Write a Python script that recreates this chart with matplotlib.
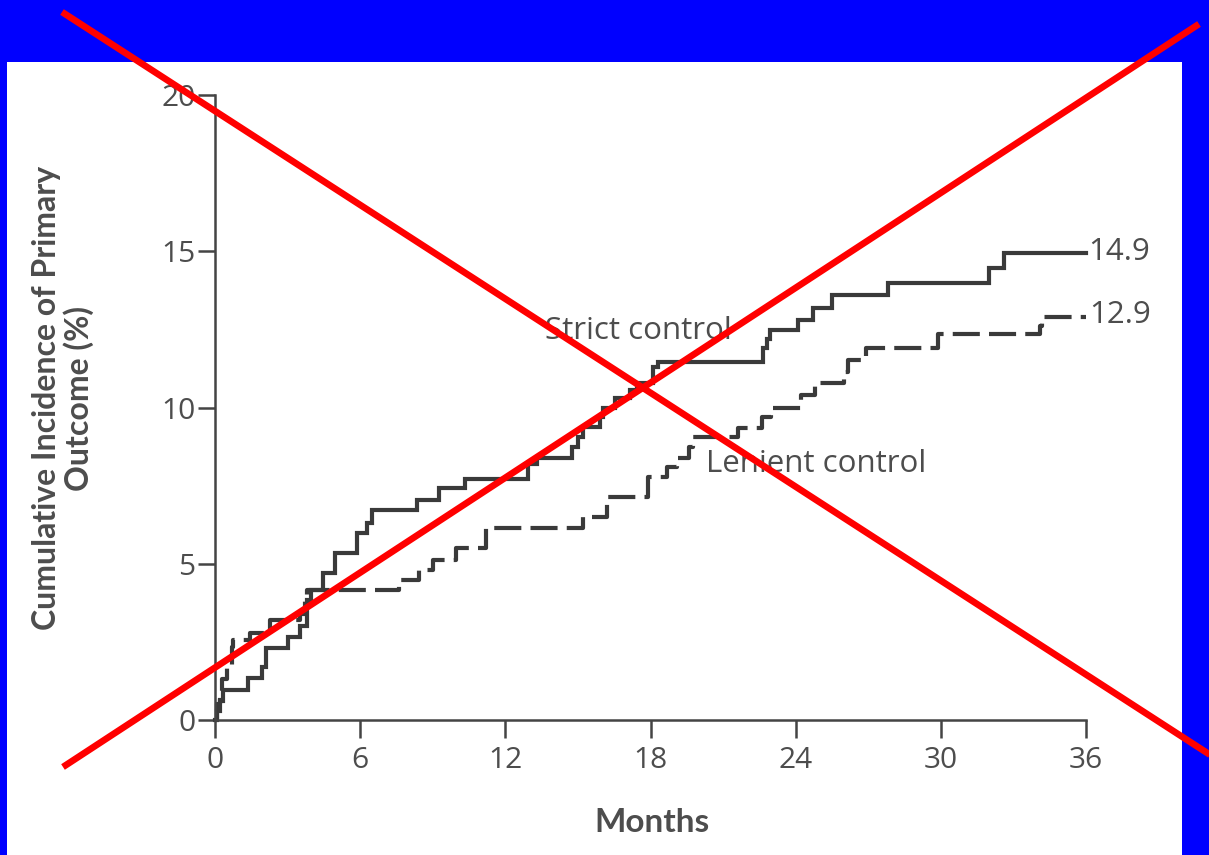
import matplotlib
matplotlib.use("Agg")
import matplotlib.pyplot as plt
from matplotlib.lines import Line2D
from matplotlib.patches import Rectangle

# ---- data ----
strict_t = [0, 0.1, 0.2, 0.33, 1.36, 1.93, 2.1, 3.0, 3.5, 3.8, 3.95, 4.45, 4.95,
            5.85, 6.3, 6.5, 8.35, 9.25, 10.35, 12.95, 13.3, 14.75, 15.0, 15.2,
            15.9, 16.05, 16.55, 17.15, 17.45, 18.1, 18.3, 22.65, 22.8, 22.95,
            24.1, 24.7, 25.5, 27.8, 32.0, 32.6, 36.0]
strict_v = [0, 0.3, 0.6, 0.96, 1.34, 1.7, 2.3, 2.66, 3.0, 3.84, 4.16, 4.7, 5.34,
            5.97, 6.3, 6.72, 7.04, 7.42, 7.71, 8.2, 8.4, 8.74, 9.06, 9.38,
            9.7, 10.0, 10.3, 10.56, 10.77, 11.3, 11.46, 11.9, 12.2, 12.48,
            12.8, 13.18, 13.6, 14.0, 14.46, 14.94, 14.94]

lenient_t = [0, 0.1, 0.2, 0.3, 0.5, 0.7, 0.75, 1.45, 2.27, 3.5, 3.7, 3.8, 7.6,
             8.45, 9.0, 9.95, 11.2, 15.2, 16.2, 17.9, 18.7, 19.1, 19.6, 19.75,
             21.6, 22.6, 23.0, 24.2, 24.8, 26.0, 26.15, 26.9, 29.9, 34.1, 34.2, 36.0]
lenient_v = [0, 0.5, 0.9, 1.3, 1.7, 2.34, 2.56, 2.8, 3.2, 3.4, 3.8, 4.16, 4.48,
             4.8, 5.12, 5.5, 6.13, 6.5, 7.14, 7.78, 8.1, 8.4, 8.75, 9.06,
             9.34, 9.7, 10.0, 10.4, 10.77, 11.14, 11.52, 11.9, 12.35, 12.6, 12.9, 12.9]

x_ticks = [0, 6, 12, 18, 24, 30, 36]
y_ticks = [0, 5, 10, 15, 20]
strict_label = "Strict control"
lenient_label = "Lenient control"
strict_end = "14.9"
lenient_end = "12.9"

# ---- figure ----
W, H = 1209, 855
fig = plt.figure(figsize=(W / 100, H / 100), dpi=100)
fig.patch.set_facecolor("#0000FF")
fig.patches.append(Rectangle((7 / W, 0), (1182 - 7) / W, (855 - 62) / H,
                             transform=fig.transFigure, facecolor="white",
                             edgecolor="none", zorder=-5))

ax = fig.add_axes([215 / W, 1 - 720 / H, (1086 - 215) / W, (720 - 95) / H])
ax.set_zorder(2)
ax.set_facecolor("none")
line_c = "#3a3a3a"
text_c = "#4d4d4d"
font = "Open Sans"

ax.plot(strict_t, strict_v, drawstyle="steps-post", color=line_c, lw=3.0,
        solid_joinstyle="miter", clip_on=False)
ax.plot(lenient_t, lenient_v, drawstyle="steps-post", color=line_c, lw=3.0,
        dashes=(6.5, 2.2), dash_capstyle="butt", clip_on=False)

ax.set_xlim(0, 36)
ax.set_ylim(0, 20)
ax.set_xticks(x_ticks)
ax.set_yticks(y_ticks)
for s in ["top", "right"]:
    ax.spines[s].set_visible(False)
for s in ["left", "bottom"]:
    ax.spines[s].set_color("#444444")
    ax.spines[s].set_linewidth(1.8)
ax.tick_params(axis="x", direction="out", length=13, width=1.8, color="#444444",
               pad=6, labelsize=21.5, labelcolor=text_c)
ax.tick_params(axis="y", direction="out", length=12, width=1.8, color="#444444",
               pad=2, labelsize=21.5, labelcolor=text_c)
for lab in ax.get_xticklabels() + ax.get_yticklabels():
    lab.set_fontfamily(font)

ax.text(13.65, 12.45, strict_label, fontsize=22.5, color=text_c, family=font,
        va="center", ha="left")
ax.text(20.3, 8.2, lenient_label, fontsize=22.5, color=text_c, family=font,
        va="center", ha="left")
ax.text(36.08, strict_v[-1] + 0.05, strict_end, fontsize=22.5, color=text_c,
        family=font, va="center", ha="left")
ax.text(36.15, lenient_v[-1] + 0.05, lenient_end, fontsize=22.5, color=text_c,
        family=font, va="center", ha="left")

fig.text(63 / W, 1 - 398 / H, "Cumulative Incidence of Primary\nOutcome (%)",
         rotation=90, ha="center", va="center", multialignment="center",
         fontsize=23, fontweight="bold", color=text_c, family="Lato",
         linespacing=1.08, zorder=3)
fig.text(652 / W, 1 - 822 / H, "Months", ha="center", va="center",
         fontsize=24, fontweight="bold", color=text_c, family="Lato", zorder=3)

# red cross over the image
fig.add_artist(Line2D([62 / W, 1215 / W], [1 - 12 / H, 1 - 758 / H],
                      transform=fig.transFigure, color="#FF0000", lw=4.8,
                      solid_capstyle="butt", zorder=10))
fig.add_artist(Line2D([63 / W, 1199 / W], [1 - 767 / H, 1 - 24 / H],
                      transform=fig.transFigure, color="#FF0000", lw=4.8,
                      solid_capstyle="butt", zorder=10))

fig.savefig("out.png", dpi=100, facecolor=fig.get_facecolor())
